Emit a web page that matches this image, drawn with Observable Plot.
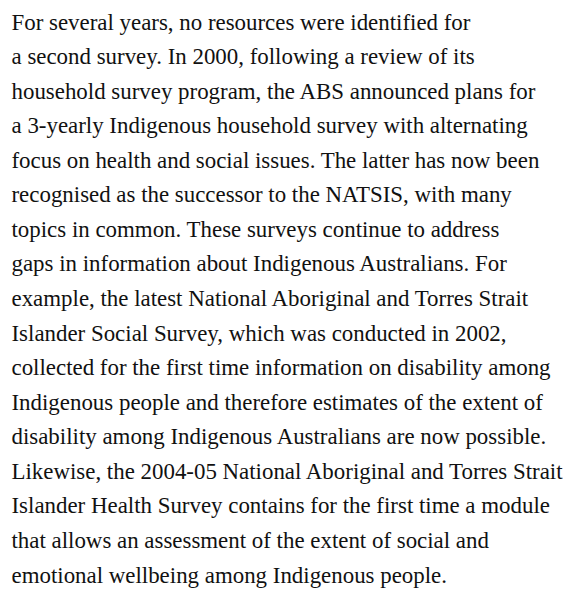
<!DOCTYPE html>
<html>
<head>
<meta charset="utf-8">
<script src="https://cdn.jsdelivr.net/npm/d3@7"></script>
<script src="https://cdn.jsdelivr.net/npm/@observablehq/plot@0.6"></script>
<style>
  html, body { margin: 0; padding: 0; background: #fff; }
  svg text { font-family: "Liberation Serif", "Times New Roman", serif !important; }
</style>
</head>
<body>
<div id="chart"></div>
<script>
const lines = [
  "For several years, no resources were identified for",
  "a second survey. In 2000, following a review of its",
  "household survey program, the ABS announced plans for",
  "a 3-yearly Indigenous household survey with alternating",
  "focus on health and social issues. The latter has now been",
  "recognised as the successor to the NATSIS, with many",
  "topics in common. These surveys continue to address",
  "gaps in information about Indigenous Australians. For",
  "example, the latest National Aboriginal and Torres Strait",
  "Islander Social Survey, which was conducted in 2002,",
  "collected for the first time information on disability among",
  "Indigenous people and therefore estimates of the extent of",
  "disability among Indigenous Australians are now possible.",
  "Likewise, the 2004-05 National Aboriginal and Torres Strait",
  "Islander Health Survey contains for the first time a module",
  "that allows an assessment of the extent of social and",
  "emotional wellbeing among Indigenous people."
];
</script>
<script>
const rows = lines.map((t, i) => ({line: i, col: 0, text: t}));
const chart = Plot.plot({
  width: 577,
  height: 589,
  margin: 0,
  x: {domain: [0, 1], range: [11, 577], axis: null},
  y: {domain: [0, lines.length - 1], range: [29, 582], axis: null},
  style: {background: "#fff"},
  marks: [
    Plot.text(rows, {
      x: "col", y: "line", text: "text",
      textAnchor: "start", lineAnchor: "bottom",
      fontSize: 22.9, fontFamily: "Liberation Serif", fill: "#111"
    })
  ]
});
document.getElementById("chart").appendChild(chart);
</script>
</body>
</html>
